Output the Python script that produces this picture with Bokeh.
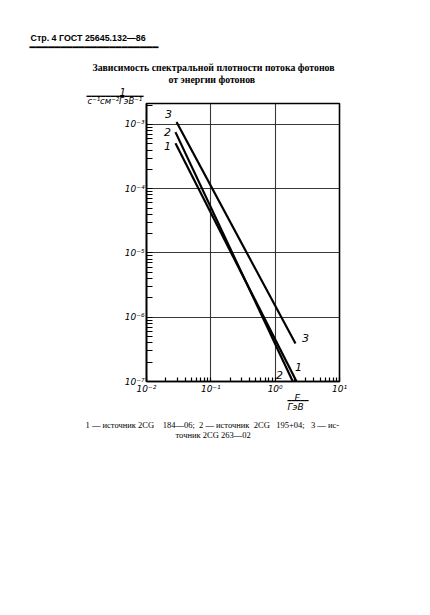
from bokeh.plotting import figure
from bokeh.models import Range1d, LogTicker, CustomJSTickFormatter, ColumnDataSource, Title
from bokeh.core.properties import value
from bokeh.embed import file_html
from bokeh.resources import INLINE

# Data: energy E, GeV; photon flux density
series_names = ["1", "2", "3"]
e1 = [0.0282, 2.15]
f1 = [5.1e-4, 1.0e-7]
e2 = [0.0282, 1.88]
f2 = [7.6e-4, 1.0e-7]
e3 = [0.0293, 2.07]
f3 = [1.09e-3, 3.9e-7]

# curve label anchor points (data coords)
lab_start_x = [0.0212, 0.0212, 0.022]
lab_start_y = [4.7e-4, 7.5e-4, 1.48e-3]
lab_end_x = [2.31, 1.17, 2.97]
lab_end_y = [1.66e-7, 1.24e-7, 4.7e-7]

x_range = (1e-2, 1e1)
y_range = (1e-7, 2.12e-3)

NB = "\u00a0"
LINE = "\u2501"
header = "Стр. 4 ГОСТ 25645.132—86"
title1 = "Зависимость спектральной плотности потока фотонов"
title2 = "от энергии фотонов"
y_unit_top = "1"
y_unit_bottom = "с⁻¹см⁻²ГэВ⁻¹"
x_unit_top = "E"
x_unit_bottom = "ГэВ"
caption1 = ("1 — источник 2CG" + NB * 4 + "184—06;" + NB * 2 + "2 — источник" + NB * 2
            + "2CG" + NB * 3 + "195+04;" + NB * 3 + "3 — ис-")
caption2 = "точник 2CG 263—02"

W, H = 414, 460
FL, FT, FR, FB = 146, 103, 339, 381  # frame edges in page px

p = figure(width=W, height=H, x_axis_type="log", y_axis_type="log",
           x_range=Range1d(*x_range), y_range=Range1d(*y_range),
           output_backend="svg", toolbar_location=None, title=None,
           min_border_left=FL, min_border_top=FT,
           min_border_right=W - FR, min_border_bottom=H - FB)
p.background_fill_color = "white"
p.border_fill_color = "white"
p.outline_line_color = "black"
p.outline_line_width = 1.6

fmt = CustomJSTickFormatter(code="""
const e = Math.round(Math.log10(tick));
const sup = {"-":"\u207b","0":"\u2070","1":"\u00b9","2":"\u00b2","3":"\u00b3","4":"\u2074","5":"\u2075","6":"\u2076","7":"\u2077","8":"\u2078","9":"\u2079"};
return "10" + String(e).split("").map(c => sup[c]).join("");
""")

for ax in (p.xaxis[0], p.yaxis[0]):
    ax.ticker = LogTicker(num_minor_ticks=10)
    ax.formatter = fmt
    ax.axis_line_color = "black"
    ax.axis_line_width = 1.6
    ax.major_tick_in = 0
    ax.major_tick_out = 0
    ax.minor_tick_out = 0
    ax.minor_tick_line_color = "black"
    ax.minor_tick_line_width = 1.2
    ax.major_label_text_font = "DejaVu Sans"
    ax.major_label_text_font_style = "italic"
    ax.major_label_text_font_size = "9px"
    ax.major_label_text_color = "black"
p.yaxis[0].minor_tick_in = 6
p.xaxis[0].minor_tick_in = 4
p.yaxis[0].major_label_standoff = 2
p.xaxis[0].major_label_standoff = 2

for g in (p.xgrid[0], p.ygrid[0]):
    g.grid_line_color = "#222222"
    g.grid_line_width = 1.1
    g.grid_line_alpha = 0.9
    g.ticker = LogTicker(num_minor_ticks=10)

for ex, fy in ((e1, f1), (e2, f2), (e3, f3)):
    p.line(ex, fy, line_color="black", line_width=2.2)

lab_src = ColumnDataSource(dict(x=lab_start_x + lab_end_x, y=lab_start_y + lab_end_y,
                                t=series_names + series_names))
p.text(x="x", y="y", text="t", source=lab_src, text_font=value("DejaVu Sans"),
       text_font_style="italic", text_font_size="11px", text_align="center",
       text_baseline="middle", text_color="black")


# ---- text rows outside the frame (stacked Title rows) ----
def row(side, text, left_px, row_h, size, font="Liberation Serif", style="normal"):
    fs = float(size.replace("px", ""))
    est = fs * (1.17 if font.startswith("DejaVu") else 1.15)
    p.add_layout(Title(text=text, align="left", offset=left_px - FL,
                       vertical_align="middle", standoff=row_h - 2 - est,
                       text_font=font, text_font_size=size, text_font_style=style,
                       text_color="black"), side)


# above: first added is nearest to the frame
row("above", y_unit_bottom, 87, 5, "8.5px", "DejaVu Sans", "italic")
row("above", LINE * 12, 86, 4, "7.9px", "DejaVu Sans")
row("above", y_unit_top, 119, 9, "10px", "DejaVu Sans", "italic")
row("above", title2, 168, 21, "9.8px", "Liberation Serif", "bold")
row("above", title1, 92, 3, "9.8px", "Liberation Serif", "bold")
row("above", NB, 30, 14.5, "8px", "Liberation Serif")
row("above", LINE * 21, 29, 9, "10.2px", "DejaVu Sans")
row("above", header, 30, 12, "8.9px", "Liberation Sans", "bold")

# below: stacked after the x axis
row("below", x_unit_top, 294, 3, "9px", "DejaVu Sans", "italic")
row("below", LINE * 5, 287, 4, "7px", "DejaVu Sans")
row("below", x_unit_bottom, 287, 10, "9px", "DejaVu Sans", "italic")
row("below", NB, 30, 8.5, "8px", "Liberation Serif")
row("below", caption1, 85, 10, "8.5px", "Liberation Serif")
row("below", caption2, 175, 10, "8.5px", "Liberation Serif")

open("out.html", "w").write(file_html(p, INLINE))
